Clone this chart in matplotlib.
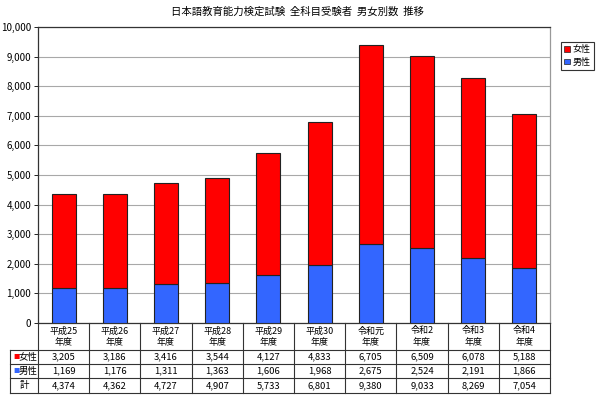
import matplotlib
matplotlib.use("Agg")
import matplotlib.pyplot as plt
import matplotlib.transforms as mtransforms
from matplotlib.lines import Line2D
from matplotlib.patches import Patch

plt.rcParams["font.family"] = ["Noto Sans CJK JP", "DejaVu Sans"]

years = ["平成25\n年度", "平成26\n年度", "平成27\n年度", "平成28\n年度", "平成29\n年度",
         "平成30\n年度", "令和元\n年度", "令和2\n年度", "令和3\n年度", "令和4\n年度"]
female = [3205, 3186, 3416, 3544, 4127, 4833, 6705, 6509, 6078, 5188]
male = [1169, 1176, 1311, 1363, 1606, 1968, 2675, 2524, 2191, 1866]
total = [4374, 4362, 4727, 4907, 5733, 6801, 9380, 9033, 8269, 7054]

RED = "#FF0000"
BLUE = "#3366FF"
W, H = 600, 396

fig = plt.figure(figsize=(6, 3.96), dpi=100)
ax = fig.add_axes([38 / W, 1 - 323 / H, 512 / W, 296 / H])

x = list(range(len(years)))
ax.bar(x, male, width=0.47, color=BLUE, edgecolor="#222222", linewidth=0.8, zorder=3)
ax.bar(x, female, width=0.47, bottom=male, color=RED, edgecolor="#222222", linewidth=0.8, zorder=3)

ax.set_xlim(-0.5, len(years) - 0.5)
ax.set_ylim(0, 10000)
ax.set_yticks(range(0, 10001, 1000))
ax.set_yticklabels([f"{v:,}" for v in range(0, 10001, 1000)], fontsize=7)
ax.tick_params(axis="y", length=3, width=0.6, pad=2)
ax.set_xticks([])
ax.yaxis.grid(True, color="#a8a8a8", linewidth=0.8, zorder=0)
for s in ax.spines.values():
    s.set_color("#333333")
    s.set_linewidth(0.9)
ax.spines["right"].set_color("#999999")

fig.text(297 / W, 1 - 12 / H, "日本語教育能力検定試験  全科目受験者  男女別数  推移",
         ha="center", va="center", fontsize=7.5)

# data table below the plot
tr = mtransforms.blended_transform_factory(ax.transData, fig.transFigure)
def fy(py):
    return 1 - py / H

xl = -0.5 - 28 / 51.2
rows_y = [323, 350, 364, 378, 393]
lc = "#333333"
for i in range(len(years) + 1):
    ax.add_line(Line2D([i - 0.5, i - 0.5], [fy(323), fy(393)], transform=tr,
                       color=lc, lw=0.8, clip_on=False))
ax.add_line(Line2D([xl, xl], [fy(350), fy(393)], transform=tr, color=lc, lw=0.8, clip_on=False))
for py in rows_y[1:]:
    ax.add_line(Line2D([xl, len(years) - 0.5], [fy(py), fy(py)], transform=tr,
                       color=lc, lw=0.8, clip_on=False))

for i, lab in enumerate(years):
    ax.text(i, fy(336.5), lab, transform=tr, ha="center", va="center", fontsize=6.5, linespacing=1.3)
    ax.text(i, fy(357), f"{female[i]:,}", transform=tr, ha="center", va="center", fontsize=6.8)
    ax.text(i, fy(371), f"{male[i]:,}", transform=tr, ha="center", va="center", fontsize=6.8)
    ax.text(i, fy(385.5), f"{total[i]:,}", transform=tr, ha="center", va="center", fontsize=6.8)

lab_x = (xl + (-0.5)) / 2
ax.text(xl + 0.06, fy(357), "■", transform=tr, ha="left", va="center", fontsize=4.5, color=RED)
ax.text(lab_x + 0.08, fy(357), "女性", transform=tr, ha="center", va="center", fontsize=6.8)
ax.text(xl + 0.06, fy(371), "■", transform=tr, ha="left", va="center", fontsize=4.5, color=BLUE)
ax.text(lab_x + 0.08, fy(371), "男性", transform=tr, ha="center", va="center", fontsize=6.8)
ax.text(lab_x, fy(385.5), "計", transform=tr, ha="center", va="center", fontsize=6.8)

handles = [Patch(facecolor=RED, edgecolor="#222222", linewidth=0.5),
           Patch(facecolor=BLUE, edgecolor="#222222", linewidth=0.5)]
leg = fig.legend(handles, ["女性", "男性"], loc="upper left",
                 bbox_to_anchor=(556 / W, 1 - 37 / H), fontsize=6.5,
                 handlelength=0.6, handleheight=0.6, handletextpad=0.3,
                 borderpad=0.4, labelspacing=0.4, fancybox=False, framealpha=1)
leg.get_frame().set_edgecolor("#333333")
leg.get_frame().set_linewidth(0.8)

fig.savefig("out.png", dpi=100)
